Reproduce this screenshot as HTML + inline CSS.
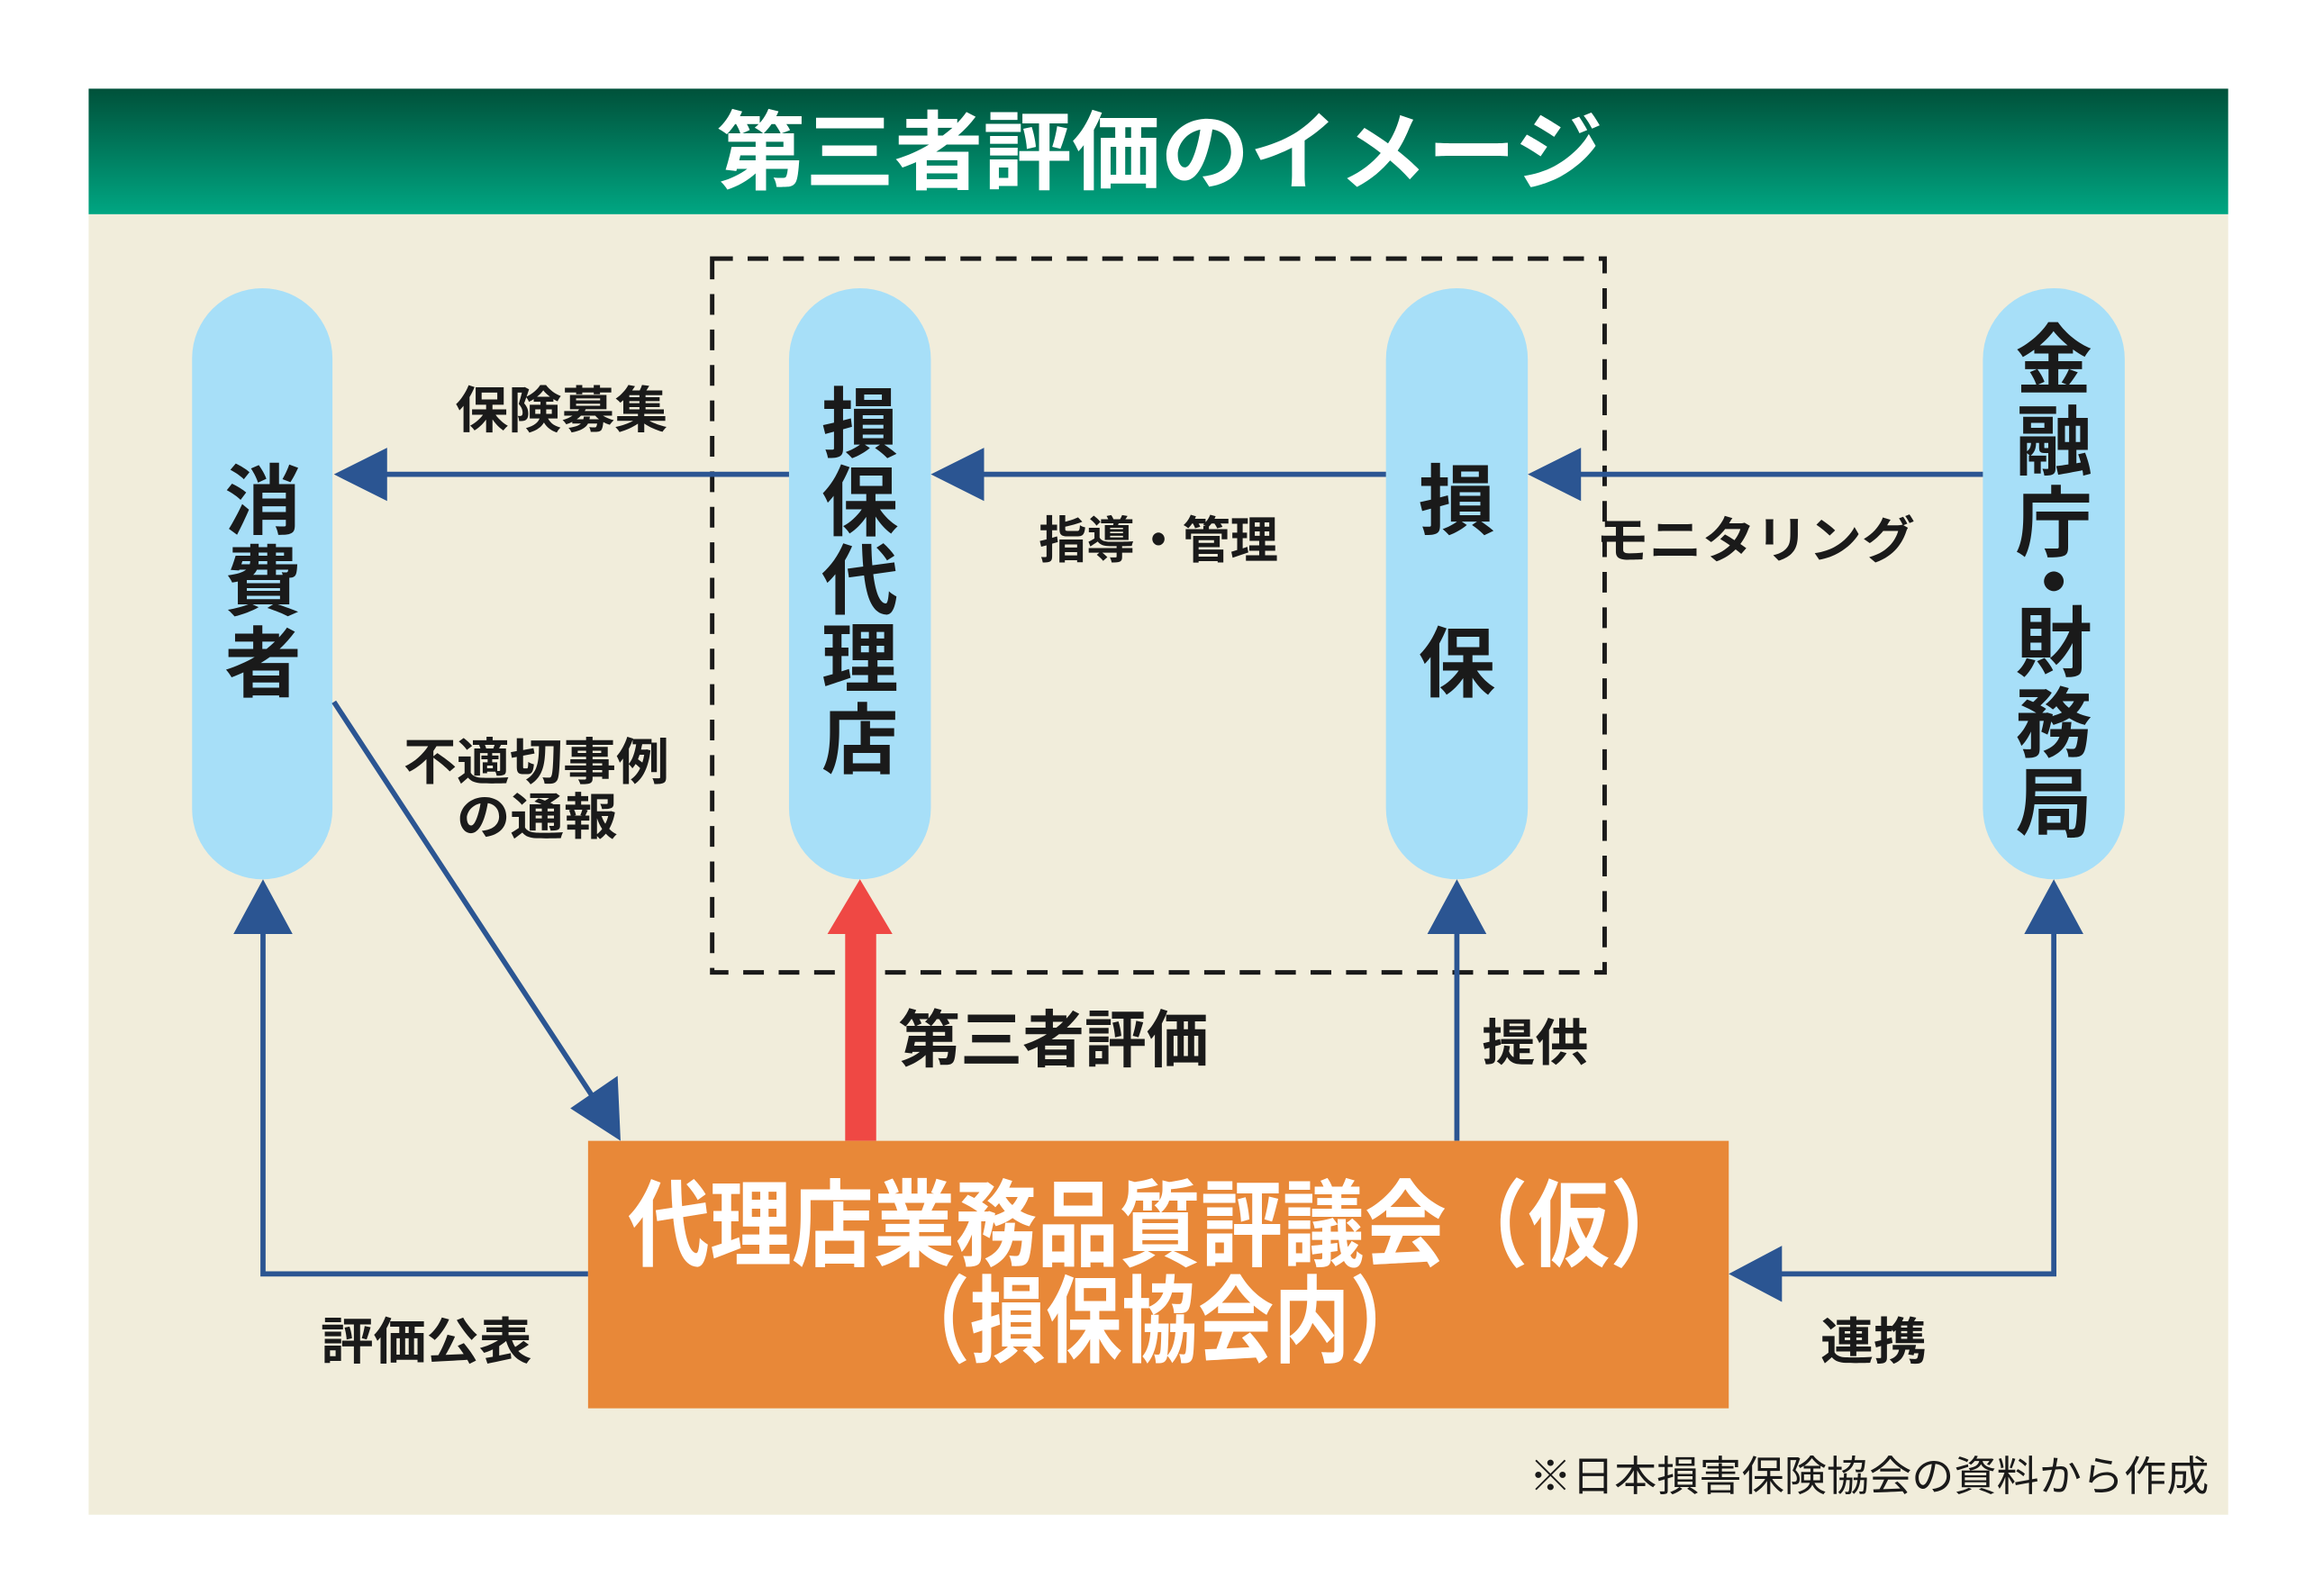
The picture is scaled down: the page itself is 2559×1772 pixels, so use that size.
<!DOCTYPE html>
<html><head><meta charset="utf-8"><style>
html,body{margin:0;padding:0;background:#fff;}
svg{display:block;}
text{font-family:"Liberation Sans","Noto Sans CJK JP",sans-serif;font-weight:bold;}
</style></head><body>
<svg width="2559" height="1772" viewBox="0 0 1560 1080" preserveAspectRatio="none" xmlns="http://www.w3.org/2000/svg">
<defs>
<linearGradient id="g" x1="0" y1="0" x2="0" y2="1">
<stop offset="0" stop-color="#00513a"/><stop offset="1" stop-color="#00a682"/>
</linearGradient>
</defs>
<rect x="0" y="0" width="1560" height="1080" fill="#fff"/>
<rect x="60" y="60" width="1448" height="85" fill="url(#g)"/>
<text x="485" y="104" font-size="58" fill="#fff" dominant-baseline="central" textLength="600" lengthAdjust="spacingAndGlyphs">第三者評価のイメージ</text>
<rect x="60" y="145" width="1448" height="880" fill="#f1eddb"/>
<rect x="482" y="175" width="604" height="483" fill="none" stroke="#1a1a1a" stroke-width="3" stroke-dasharray="14 10"/>
<g fill="#a7dff8">
<rect x="130" y="195" width="95" height="400" rx="47.5"/>
<rect x="534" y="195" width="96" height="400" rx="48"/>
<rect x="938" y="195" width="96" height="400" rx="48"/>
<rect x="1342" y="195" width="96" height="400" rx="48"/>
</g>
<g stroke="#2b5592" stroke-width="3.5" fill="none">
<line x1="534" y1="321" x2="255" y2="321"/>
<line x1="938" y1="321" x2="660" y2="321"/>
<line x1="1342" y1="321" x2="1064" y2="321"/>
<polyline points="398,862 178,862 178,625"/>
<line x1="986" y1="772" x2="986" y2="625"/>
<polyline points="1390,625 1390,862 1200,862"/>
<line x1="226" y1="475" x2="403" y2="745"/>
</g>
<g fill="#2b5592">
<polygon points="226,321 262,303 262,339"/>
<polygon points="630,321 666,303 666,339"/>
<polygon points="1034,321 1070,303 1070,339"/>
<polygon points="178,595 158,632 198,632"/>
<polygon points="986,595 966,632 1006,632"/>
<polygon points="1390,595 1370,632 1410,632"/>
<polygon points="1170,862 1206,843 1206,881"/>
<polygon points="420,772 386,750 418,728"/>
</g>
<rect x="572" y="630" width="21" height="142" fill="#ef4844"/>
<polygon points="582,595 560,632 604,632" fill="#ef4844"/>
<rect x="398" y="772" width="772" height="181" fill="#e88838"/>
<g fill="#fff" font-size="64" dominant-baseline="central">
<text x="425" y="830" textLength="720" lengthAdjust="spacingAndGlyphs">代理店業務品質評議会（仮）</text>
<text x="605" y="895" textLength="360" lengthAdjust="spacingAndGlyphs">（損保協会内）</text>
</g>
<g fill="#1a1a1a" font-size="52" text-anchor="middle" dominant-baseline="central">
<text x="178" y="340">消</text><text x="178" y="395">費</text><text x="178" y="450">者</text>
<text x="582" y="288">損</text><text x="582" y="341">保</text><text x="582" y="394">代</text><text x="582" y="447">理</text><text x="582" y="502">店</text>
<text x="986" y="340">損</text><text x="986" y="450">保</text>
<text x="1390" y="245">金</text><text x="1390" y="300">融</text><text x="1390" y="355">庁</text><text x="1390" y="396">・</text><text x="1390" y="436">財</text><text x="1390" y="491">務</text><text x="1390" y="545">局</text>
</g>
<g fill="#1a1a1a" font-size="34" dominant-baseline="central" lengthAdjust="spacingAndGlyphs">
<text x="308" y="278" textLength="144" lengthAdjust="spacingAndGlyphs">保険募集</text>
<text x="703" y="366" textLength="162" lengthAdjust="spacingAndGlyphs">指導・管理</text>
<text x="1080" y="366" textLength="216" lengthAdjust="spacingAndGlyphs">モニタリング</text>
<text x="273" y="516" textLength="180" lengthAdjust="spacingAndGlyphs">不適切事例</text>
<text x="309" y="553" textLength="109" lengthAdjust="spacingAndGlyphs">の通報</text>
<text x="1003" y="706" textLength="72" lengthAdjust="spacingAndGlyphs">提供</text>
<text x="217" y="908" textLength="143" lengthAdjust="spacingAndGlyphs">評価公表</text>
<text x="1232" y="908" textLength="72" lengthAdjust="spacingAndGlyphs">連携</text>
<text x="608" y="704" font-size="42" textLength="210" lengthAdjust="spacingAndGlyphs">第三者評価</text>
</g>
<text x="1035" y="999" font-size="28" fill="#1a1a1a" dominant-baseline="central" style="font-weight:normal" textLength="460" lengthAdjust="spacingAndGlyphs">※日本損害保険協会の資料から作成</text>
</svg>
</body></html>
